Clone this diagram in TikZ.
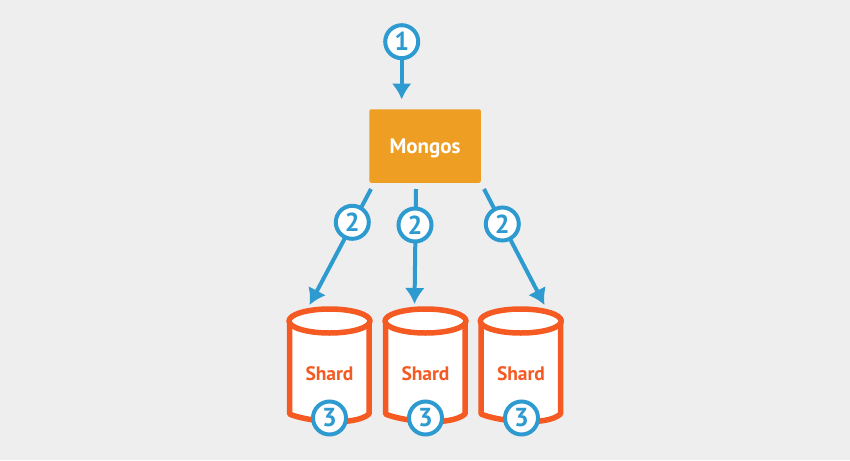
\documentclass[tikz,border=0pt]{standalone}
\usepackage{fontspec}
\setmainfont{PT Sans}
\usetikzlibrary{arrows.meta}
\definecolor{bgcol}{HTML}{EEEEEE}
\definecolor{stepcol}{HTML}{2E9BD0}
\definecolor{mongoscol}{HTML}{EE9E22}
\definecolor{shardcol}{HTML}{F45A22}
\tikzset{
	stepnum/.style={circle, draw=stepcol, fill=white, line width=4pt, minimum size=33pt, inner sep=0pt, text=stepcol, font=\fontsize{26}{26}\selectfont\bfseries},
	steparrow/.style={draw=stepcol, line width=4pt, -{Latex[length=16pt,width=20pt]}},
	shardbody/.style={draw=shardcol, fill=white, line width=5.5pt, line join=round},
	shardlabel/.style={text=shardcol, font=\fontsize{19.5}{19.5}\selectfont\bfseries}
}
\begin{document}
\begin{tikzpicture}[x=1pt, y=-1pt]
	\fill[bgcol] (0,0) rectangle (850,460);
	\useasboundingbox (0,0) rectangle (850,460);

	\draw[shardbody] (289.5,321) -- (289.5,414) .. controls (305,421) and (354,427) .. (369,414) -- (369,321);
	\draw[shardbody] (329.5,321) ellipse [x radius=40.5, y radius=12];
	\draw[shardbody] (385.5,321) -- (385.5,414) .. controls (401,421) and (450,427) .. (465,414) -- (465,321);
	\draw[shardbody] (425.5,321) ellipse [x radius=40.5, y radius=12];
	\draw[shardbody] (481,321) -- (481,414) .. controls (497,421) and (546,427) .. (560.5,414) -- (560.5,321);
	\draw[shardbody] (520.8,321) ellipse [x radius=40.5, y radius=12];
	\node[shardlabel] (shardA) at (329.5,373.5) {Shard};
	\node[shardlabel] (shardB) at (425.5,373.5) {Shard};
	\node[shardlabel] (shardC) at (521,373.5) {Shard};

	\node[fill=mongoscol, rounded corners=1.5pt, minimum width=111.5pt, minimum height=73.5pt, inner sep=0pt, text=white, font=\fontsize{21}{21}\selectfont\bfseries] (mongos) at (425,146) {\raisebox{-7.5pt}[0pt][0pt]{Mongos}};

	\coordinate (tipTop) at (401.7,99.5);
	\coordinate (fromA) at (371,189);
	\coordinate (fromB) at (416,189);
	\coordinate (fromC) at (484,189);
	\coordinate (tipA) at (309.5,305);
	\coordinate (tipB) at (414.5,304);
	\coordinate (tipC) at (544.5,305);

	\coordinate (startTop) at (401.7,41.7);
	\draw[steparrow] (startTop) -- (tipTop);
	\draw[steparrow] (fromA) -- (tipA);
	\draw[steparrow] (fromB) -- (tipB);
	\draw[steparrow] (fromC) -- (tipC);

	\node[stepnum] (stepOne) at (startTop) {1};
	\node[stepnum] (stepTwoA) at (352.3,222.3) {2};
	\node[stepnum] (stepTwoB) at (415,225) {2};
	\node[stepnum] (stepTwoC) at (502.3,224) {2};
	\node[stepnum] (stepThreeA) at (329.5,418) {3};
	\node[stepnum] (stepThreeB) at (425.5,418) {3};
	\node[stepnum] (stepThreeC) at (521.5,418) {3};
\end{tikzpicture}
\end{document}
